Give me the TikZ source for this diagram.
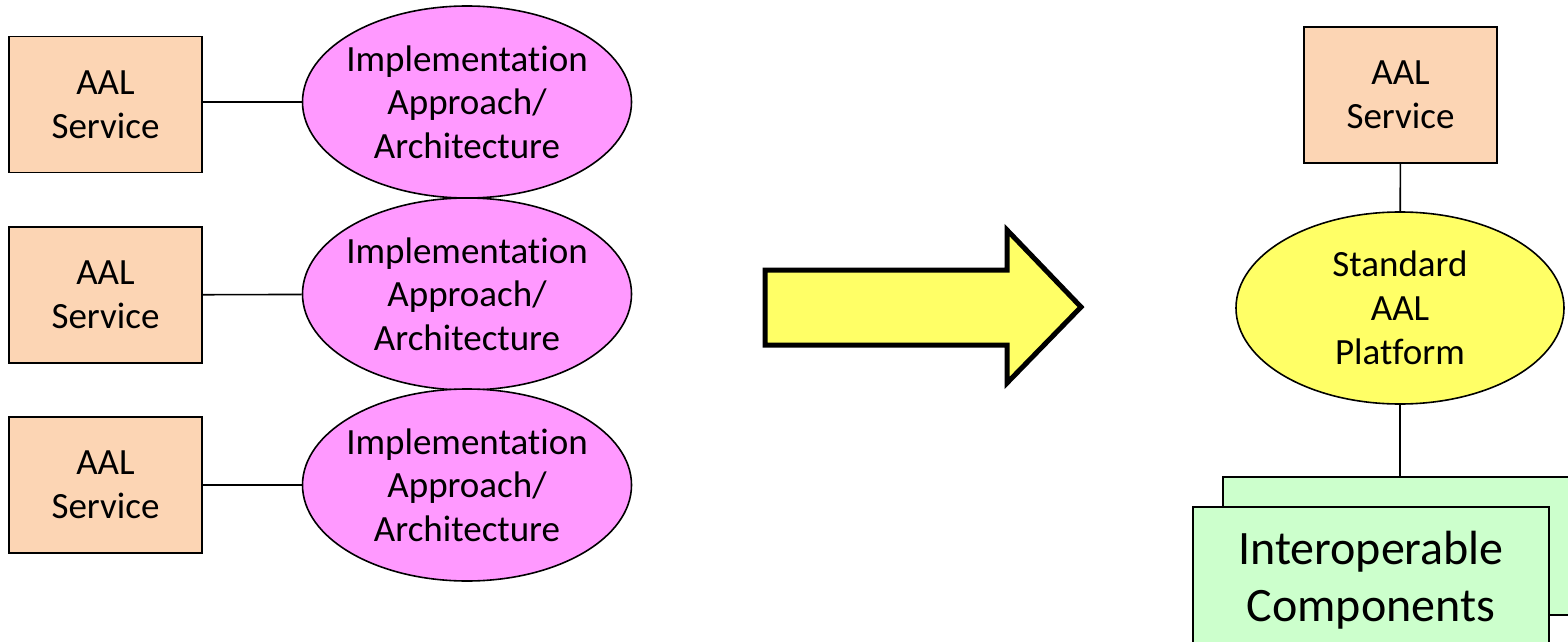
\documentclass[tikz,border=0pt]{standalone}
\usepackage{fontspec}
\setmainfont{Carlito}[Ligatures={NoCommon}]
\usetikzlibrary{shapes.geometric}
\definecolor{servicefill}{HTML}{FCD5B4}
\definecolor{approachfill}{HTML}{FF99FF}
\definecolor{platformfill}{HTML}{FFFF66}
\definecolor{compfill}{HTML}{CCFFCC}
\begin{document}
\begin{tikzpicture}[x=0.5pt, y=-0.5pt, line width=0.8pt,
    service/.style={draw, fill=servicefill, minimum width=96.5pt, minimum height=68pt, align=center, font=\fontsize{18.5}{22}\selectfont},
    approach/.style={ellipse, draw, fill=approachfill, minimum width=164.5pt, minimum height=96pt, inner xsep=-6pt, inner ysep=0pt, align=center, font=\fontsize{18.5}{21.8}\selectfont},
    component/.style={draw, fill=compfill, minimum width=178pt, align=center, font=\fontsize{24}{28.5}\selectfont}]
    \useasboundingbox (0,0) rectangle (1568,642);
    \clip (0,0) rectangle (1568,642);
    % left side: one approach per service
    \node[service] (serviceA) at (105.5,104.5) {AAL\\Service};
    \node[service] (serviceB) at (105.5,295) {AAL\\Service};
    \node[service] (serviceC) at (105.5,485) {AAL\\Service};
    \node[approach] (approachA) at (467,102) {Implementation\\Approach/\\Architecture};
    \node[approach] (approachB) at (467,294) {Implementation\\Approach/\\Architecture};
    \node[approach] (approachC) at (467,485) {Implementation\\Approach/\\Architecture};
    \draw (serviceA.east |- approachA) -- (approachA);
    \draw (serviceB) -- (approachB);
    \draw (serviceC) -- (approachC);
    % big arrow
    \draw[line width=2.5pt, fill=platformfill] (765,270) -- (1007,270) -- (1007,230) -- (1081,307)
        -- (1007,383) -- (1007,345) -- (765,345) -- cycle;
    % right side: one standard platform
    \node[service] (service) at (1400.5,95) {AAL\\Service};
    \node[approach, fill=platformfill, minimum width=164pt, font=\fontsize{18.5}{22}\selectfont] (platform) at (1400,308) {Standard\\AAL\\Platform};
    \node[component, minimum height=69pt] (compsBack) at (1401,546) {};
    \node[component, minimum height=73pt] (comps) at (1371,580) {Interoperable\\Components};
    \draw (service) -- (platform);
    \draw (platform) -- (platform |- compsBack.north);
\end{tikzpicture}
\end{document}
